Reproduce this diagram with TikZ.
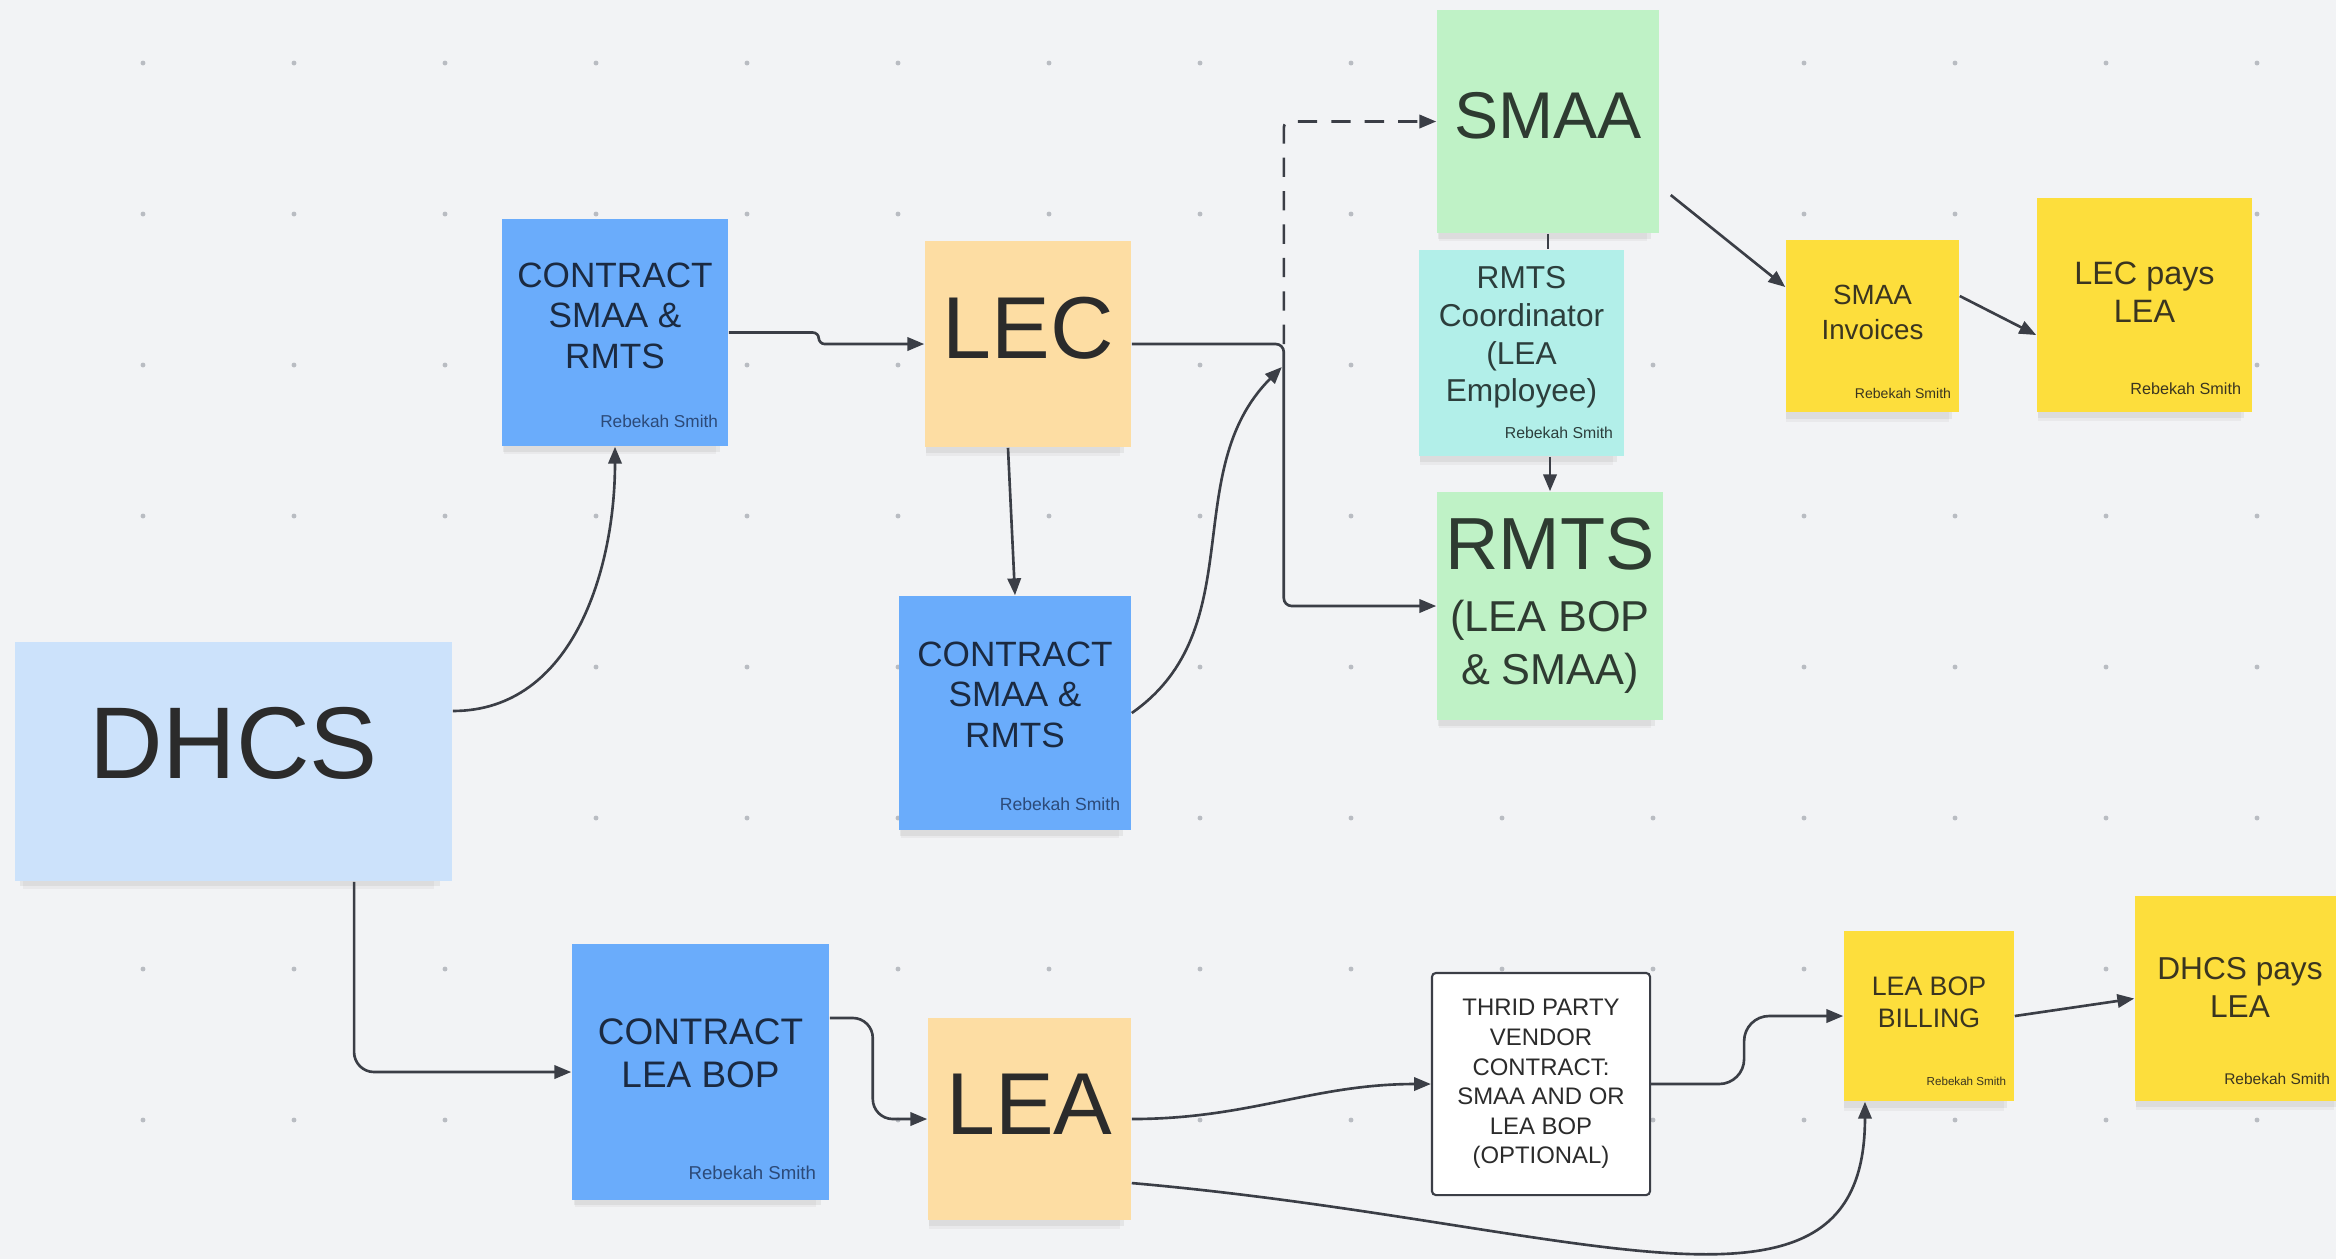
\documentclass[tikz,border=0pt]{standalone}
\usepackage{fontspec}
\setmainfont{Liberation Sans}
\usepackage{tikz}
\usetikzlibrary{arrows.meta}
\usetikzlibrary{shadows}
\pgfdeclarelayer{bglayer}
\pgfdeclarelayer{nodelayer}
\pgfdeclarelayer{edgelayer}
\pgfsetlayers{bglayer,nodelayer,edgelayer,main}

\definecolor{canvas}{HTML}{F2F3F5}
\definecolor{gridc}{HTML}{B9BCC2}
\definecolor{paleblue}{HTML}{CCE2FB}
\definecolor{midblue}{HTML}{6AACFB}
\definecolor{peach}{HTML}{FDDDA3}
\definecolor{mint}{HTML}{BFF2C6}
\definecolor{aqua}{HTML}{B2EFE9}
\definecolor{lemon}{HTML}{FDDE3C}
\definecolor{ink}{HTML}{2B2B2B}
\definecolor{navy}{HTML}{1B2A41}
\definecolor{slateblue}{HTML}{2C4A78}
\definecolor{forest}{HTML}{2E3B31}
\definecolor{teal}{HTML}{2C3E3C}
\definecolor{olive}{HTML}{3A3520}
\definecolor{wirec}{HTML}{3B3E46}

\newcommand{\notefont}[2]{\fontsize{#1}{#2}\selectfont}

\tikzset{
  sticky/.style={rectangle, inner sep=0pt,
    drop shadow={shadow xshift=-1.5pt, shadow yshift=-4.5pt, shadow scale=0.94, opacity=0.08},
    drop shadow={shadow xshift=-1pt, shadow yshift=-3pt, shadow scale=0.96, opacity=0.12}},
  words/.style={anchor=center, align=center, inner sep=0pt},
  byline/.style n args={4}{label={[anchor=base east, inner sep=0pt,
    font=\notefont{#1}{#1}, text=#4, xshift=-#2, yshift=#3]south east:{Rebekah Smith}}},
  wire/.style={draw=wirec, line width=0.75pt},
  arr/.style={wire, -{Triangle[length=4.8pt, width=3.8pt]}},
}

\begin{document}
\begin{tikzpicture}[x=0.01cm, y=-0.01cm]
  \useasboundingbox (0,0) rectangle (2336,1259);
  \begin{pgfonlayer}{bglayer}
    \fill [canvas] (0,0) rectangle (2336,1259);
    \foreach \i in {0,...,14}
      \foreach \j in {0,...,7}
        \fill [gridc] ({143+151*\i}, {63+151*\j}) circle [radius=0.7pt];
  \end{pgfonlayer}
  \begin{pgfonlayer}{nodelayer}
    \node [sticky, fill=paleblue, minimum width=4.37cm, minimum height=2.39cm,
      label={[words, font=\notefont{29pt}{34pt}, text=ink, yshift=0.185cm]center:{DHCS}}] (0) at (233.5, 761.5) {};
    \node [sticky, fill=midblue, minimum width=2.26cm, minimum height=2.27cm,
      label={[words, font=\notefont{10pt}{11.5pt}, text=navy, yshift=0.17cm]center:{CONTRACT\\SMAA \&\\RMTS}},
      byline={4.9pt}{0.1cm}{0.19cm}{slateblue}] (1) at (615, 332.5) {};
    \node [sticky, fill=peach, minimum width=2.06cm, minimum height=2.06cm,
      label={[words, font=\notefont{25pt}{30pt}, text=ink, yshift=0.16cm]center:{LEC}}] (2) at (1028, 344) {};
    \node [sticky, fill=midblue, minimum width=2.32cm, minimum height=2.34cm,
      label={[words, font=\notefont{10pt}{11.5pt}, text=navy, yshift=0.185cm]center:{CONTRACT\\SMAA \&\\RMTS}},
      byline={5pt}{0.11cm}{0.2cm}{slateblue}] (3) at (1015, 713) {};
    \node [sticky, fill=midblue, minimum width=2.57cm, minimum height=2.56cm,
      label={[words, font=\notefont{10.5pt}{12.2pt}, text=navy, yshift=0.185cm]center:{CONTRACT\\LEA BOP}},
      byline={5.3pt}{0.13cm}{0.21cm}{slateblue}] (4) at (700.5, 1072) {};
    \node [sticky, fill=peach, minimum width=2.03cm, minimum height=2.02cm,
      label={[words, font=\notefont{25pt}{30pt}, text=ink, yshift=0.15cm]center:{LEA}}] (5) at (1029.5, 1119) {};
    \node [sticky, fill=mint, minimum width=2.22cm, minimum height=2.23cm,
      label={[words, font=\notefont{18.8pt}{22pt}, text=forest, yshift=0.055cm]center:{SMAA}}] (6) at (1548, 121.5) {};
    \node [sticky, fill=aqua, minimum width=2.05cm, minimum height=2.06cm,
      label={[words, font=\notefont{9pt}{10.7pt}, text=teal, yshift=0.155cm]center:{RMTS\\Coordinator\\(LEA\\Employee)}},
      byline={4.5pt}{0.11cm}{0.18cm}{teal}] (7) at (1521.5, 353) {};
    \node [sticky, fill=mint, minimum width=2.26cm, minimum height=2.28cm,
      label={[words, font=\notefont{21pt}{25pt}, text=forest, yshift=0.62cm]center:{RMTS}},
      label={[words, font=\notefont{12.3pt}{15pt}, text=forest, yshift=-0.405cm]center:{(LEA BOP\\\& SMAA)}}] (8) at (1550, 606) {};
    \node [sticky, fill=lemon, minimum width=1.73cm, minimum height=1.72cm,
      label={[words, font=\notefont{7.9pt}{10pt}, text=olive, yshift=0.135cm]center:{SMAA\\Invoices}},
      byline={4pt}{0.08cm}{0.14cm}{olive}] (9) at (1872.5, 326) {};
    \node [sticky, fill=lemon, minimum width=2.15cm, minimum height=2.14cm,
      label={[words, font=\notefont{9.2pt}{10.8pt}, text=olive, yshift=0.13cm]center:{LEC pays\\LEA}},
      byline={4.6pt}{0.11cm}{0.18cm}{olive}] (10) at (2144.5, 305) {};
    \node [rectangle, draw=wirec, line width=0.6pt, fill=white, rounded corners=0.04cm,
      minimum width=2.18cm, minimum height=2.22cm, align=center, text=ink,
      font=\notefont{6.8pt}{8.4pt}] (11) at (1541, 1084)
      {THRID PARTY\\VENDOR\\CONTRACT:\\SMAA AND OR\\LEA BOP\\(OPTIONAL)};
    \node [sticky, fill=lemon, minimum width=1.70cm, minimum height=1.70cm,
      label={[words, font=\notefont{7.6pt}{9.1pt}, text=olive, yshift=0.14cm]center:{LEA BOP\\BILLING}},
      byline={3.3pt}{0.08cm}{0.16cm}{olive}] (12) at (1929, 1016) {};
    \node [sticky, fill=lemon, minimum width=2.10cm, minimum height=2.05cm,
      label={[words, font=\notefont{9pt}{10.8pt}, text=olive, yshift=0.115cm]center:{DHCS pays\\LEA}},
      byline={4.4pt}{0.15cm}{0.175cm}{olive}] (13) at (2240, 998.5) {};
  \end{pgfonlayer}
  \begin{pgfonlayer}{edgelayer}
    \draw [arr] ([yshift=0.505cm]0.east) to [out=0, in=-90] (1.south);
    \draw [arr, rounded corners=0.2cm] ([xshift=1.205cm]0.south) |- (4.west);
    \draw [arr, rounded corners=0.06cm] (1.east) -- ++(90,0) |- (2.west);
    \draw [arr] ([xshift=-0.2cm]2.south) -- (3.north);
    \draw [arr, dash pattern=on 5.5pt off 4pt, rounded corners=0.06cm] ([xshift=1.52cm]2.east) |- (6.west);
    \draw [arr, rounded corners=0.08cm] (2.east) -- ++(152,0) |- (8.west);
    \coordinate (14) at ([xshift=1.5cm, yshift=-0.23cm]2.east);
    \draw [arr] (3.east) to [out=35, in=-135] (14);
    \draw [wire] (6.south) -- (6.south |- 7.north);
    \draw [arr] (7.south -| 8.north) -- (8.north);
    \draw [arr] ([xshift=0.11cm, yshift=-0.735cm]6.east) -- ([yshift=0.39cm]9.west);
    \draw [arr] ([yshift=0.3cm]9.east) -- ([yshift=-0.3cm]10.west);
    \draw [arr, rounded corners=0.2cm] ([yshift=0.54cm]4.east) -- ++(43,0) |- (5.west);
    \draw [arr] (5.east) to [out=0, in=180] (11.west);
    \draw [arr] ([yshift=-0.64cm]5.east) to [out=-5, in=-90, out distance=4.5cm, in distance=2.5cm] ([xshift=-0.64cm]12.south);
    \draw [arr, rounded corners=0.25cm] (11.east) -- ++(93,0) |- (12.west);
    \draw [arr] (12.east) -- (13.west);
  \end{pgfonlayer}
\end{tikzpicture}
\end{document}
